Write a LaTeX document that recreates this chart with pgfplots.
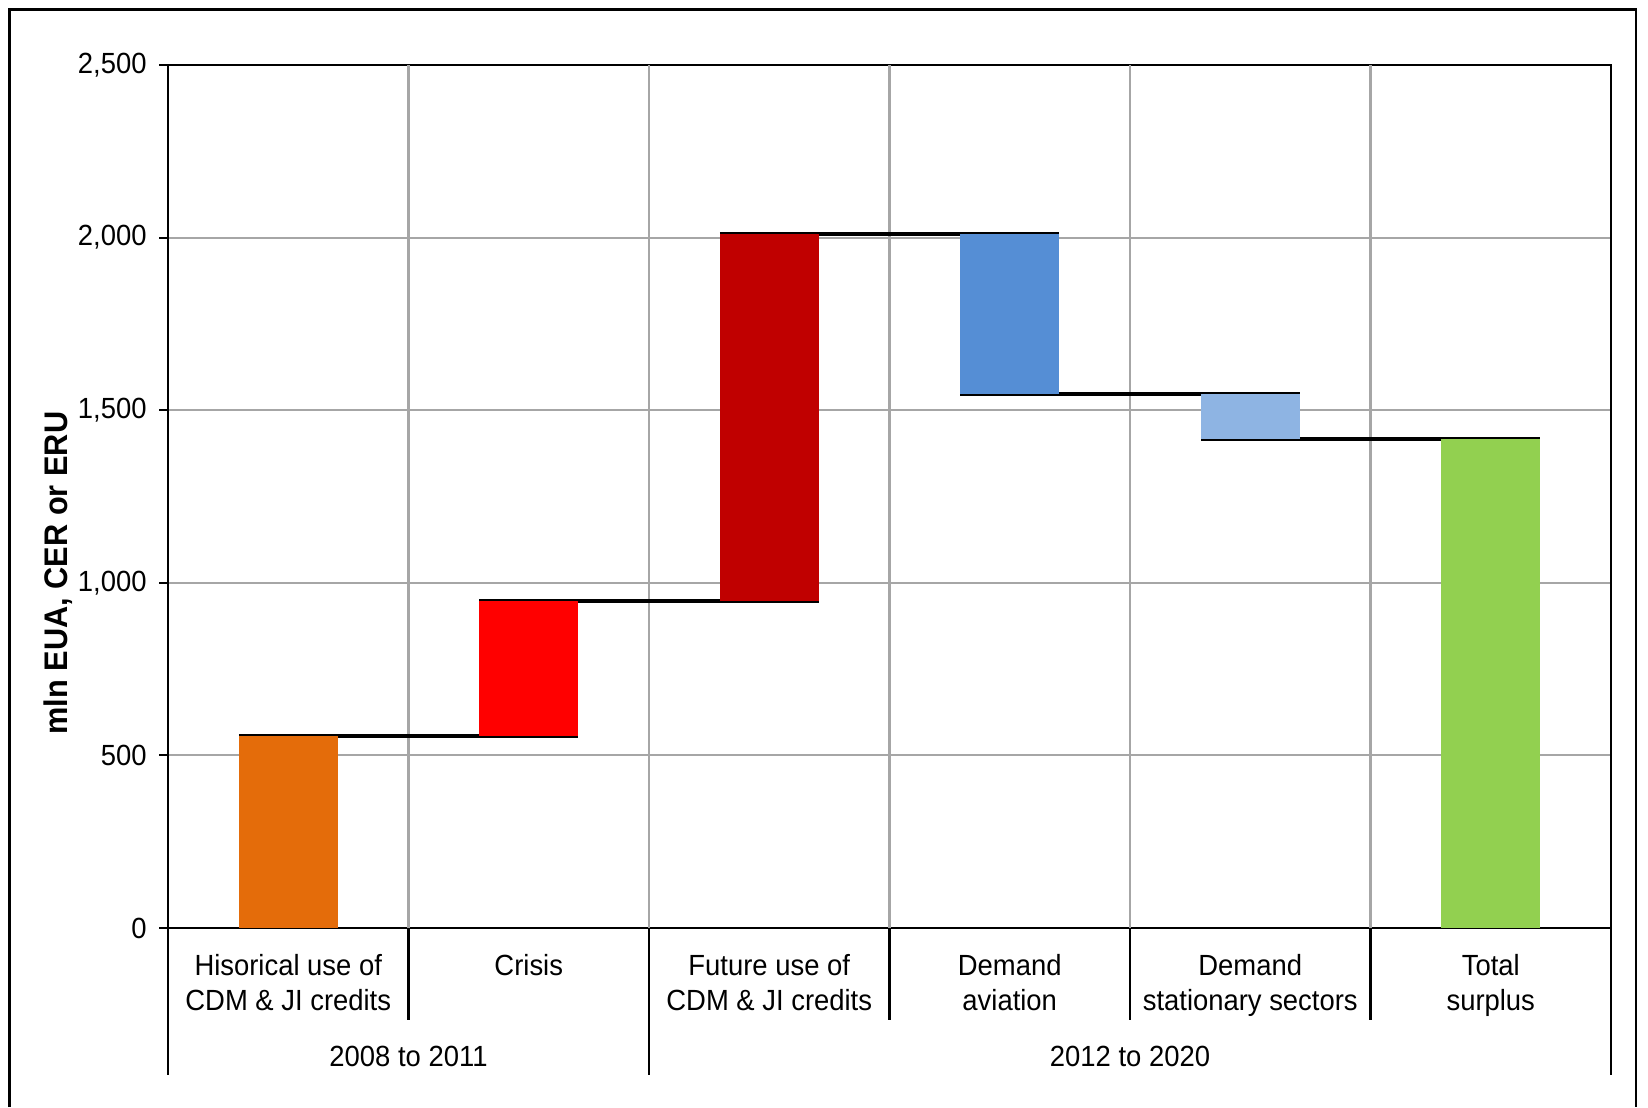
\documentclass[border=0pt]{standalone}
\usepackage{fontspec}
\setmainfont{Liberation Sans}[FakeStretch=0.94]
\usepackage{pgfplots}
\pgfplotsset{compat=1.18}
\usepackage{pgfplotstable}

\definecolor{histcol}{HTML}{E46C0A}
\definecolor{crisiscol}{HTML}{FF0000}
\definecolor{futurecol}{HTML}{C00000}
\definecolor{aviacol}{HTML}{558ED5}
\definecolor{statcol}{HTML}{8EB4E3}
\definecolor{totalcol}{HTML}{92D050}
\definecolor{gridgray}{HTML}{A6A6A6}

% Waterfall steps: invisible base plus one visible segment per category
\pgfplotstableread{
x base hist crisis future aviation stationary total
0 0    556 0   0    0   0   0
1 556  0   391 0    0   0   0
2 947  0   0   1063 0   0   0
3 1548 0   0   0    462 0   0
4 1417 0   0   0    0   131 0
5 0    0   0   0    0   0   1417
}\steps

% Connector levels between consecutive bars
\pgfplotstableread{
x y
-0.205 556
1.205 556
}\linea
\pgfplotstableread{
x y
0.795 947
2.205 947
}\lineb
\pgfplotstableread{
x y
1.795 2010
3.205 2010
}\linec
\pgfplotstableread{
x y
2.795 1548
4.205 1548
}\lined
\pgfplotstableread{
x y
3.795 1417
5.205 1417
}\linee

\begin{document}
\begin{tikzpicture}[font=\fontsize{8.3}{10}\selectfont]
\useasboundingbox (0,0) rectangle (16.48,-11.07);
\draw[line width=0.6pt] (0.095,-11.07) -- (0.095,-0.095) -- (16.36,-0.095) -- (16.36,-11.07);
\begin{axis}[
  at={(1.68cm,-0.65cm)}, anchor=north west,
  scale only axis, width=14.43cm, height=8.63cm,
  xmin=-0.5, xmax=5.5, ymin=0, ymax=2500,
  ybar stacked, bar width=0.41,
  clip=false,
  axis line style={line width=0.6pt},
  ytick={0,500,...,2500},
  ytick pos=left, tick align=outside,
  major tick length=0.09cm,
  ytick style={line width=0.6pt, black},
  /pgf/number format/1000 sep={,},
  /pgf/number format/assume math mode=true,
  yticklabel style={font=\fontsize{8.3}{10}\selectfont},
  ymajorgrids,
  grid style={line width=0.6pt, gridgray},
  xtick={0,...,5},
  xtick style={draw=none},
  xticklabels={Hisorical use of\\CDM \& JI credits, Crisis, Future use of\\CDM \& JI credits, Demand\\aviation, Demand\\stationary sectors, Total\\surplus},
  xticklabel style={align=center, anchor=north, yshift=-0.05cm, font=\fontsize{8.3}{10}\selectfont},
  extra x ticks={0.5,1.5,2.5,3.5,4.5},
  extra x tick labels={},
  extra x tick style={grid=major, major tick length=0pt},
]
\addplot[draw=none, fill=none] table[x=x, y=base] {\steps};
\addplot[draw=none, fill=histcol] table[x=x, y=hist] {\steps};
\addplot[draw=none, fill=crisiscol] table[x=x, y=crisis] {\steps};
\addplot[draw=none, fill=futurecol] table[x=x, y=future] {\steps};
\addplot[draw=none, fill=aviacol] table[x=x, y=aviation] {\steps};
\addplot[draw=none, fill=statcol] table[x=x, y=stationary] {\steps};
\addplot[draw=none, fill=totalcol] table[x=x, y=total] {\steps};

\addplot[sharp plot, stack plots=false, no marks, black, line width=1.1pt] table {\linea};
\addplot[sharp plot, stack plots=false, no marks, black, line width=1.1pt] table {\lineb};
\addplot[sharp plot, stack plots=false, no marks, black, line width=1.1pt] table {\linec};
\addplot[sharp plot, stack plots=false, no marks, black, line width=1.1pt] table {\lined};
\addplot[sharp plot, stack plots=false, no marks, black, line width=1.1pt] table {\linee};

% category separators below the axis
\draw[line width=0.6pt] (axis cs:0.5,0) -- ([yshift=-0.92cm]axis cs:0.5,0);
\draw[line width=0.6pt] (axis cs:2.5,0) -- ([yshift=-0.92cm]axis cs:2.5,0);
\draw[line width=0.6pt] (axis cs:3.5,0) -- ([yshift=-0.92cm]axis cs:3.5,0);
\draw[line width=0.6pt] (axis cs:4.5,0) -- ([yshift=-0.92cm]axis cs:4.5,0);
\draw[line width=0.6pt] (axis cs:-0.5,0) -- ([yshift=-1.47cm]axis cs:-0.5,0);
\draw[line width=0.6pt] (axis cs:1.5,0) -- ([yshift=-1.47cm]axis cs:1.5,0);
\draw[line width=0.6pt] (axis cs:5.5,0) -- ([yshift=-1.47cm]axis cs:5.5,0);
\node at ([yshift=-1.28cm]axis cs:0.5,0) {2008 to 2011};
\node at ([yshift=-1.28cm]axis cs:3.5,0) {2012 to 2020};
\end{axis}
\node[rotate=90, font=\fontsize{9.3}{11}\selectfont\bfseries] at (0.58,-5.73) {mln EUA, CER or ERU};
\end{tikzpicture}
\end{document}
